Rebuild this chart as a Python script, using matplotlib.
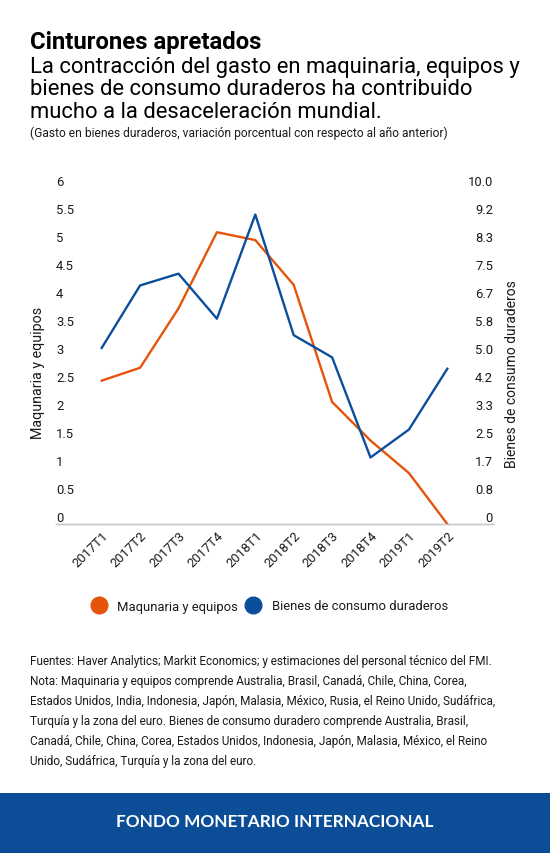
import matplotlib
matplotlib.use('Agg')
from matplotlib import pyplot as plt
from matplotlib.lines import Line2D
from matplotlib.patches import Rectangle

quarters = ['2017T1', '2017T2', '2017T3', '2017T4', '2018T1',
            '2018T2', '2018T3', '2018T4', '2019T1', '2019T2']
maquinaria = [2.56, 2.79, 3.85, 5.21, 5.07, 4.27, 2.18, 1.49, 0.91, 0.0]
bienes = [5.24, 7.10, 7.45, 6.11, 9.21, 5.62, 4.96, 1.98, 2.81, 4.62]
left_ticks = [0, 0.5, 1, 1.5, 2, 2.5, 3, 3.5, 4, 4.5, 5, 5.5, 6]
left_labels = ['0', '0.5', '1', '1.5', '2', '2.5', '3', '3.5', '4', '4.5', '5', '5.5', '6']
right_labels = ['0', '0.8', '1.7', '2.5', '3.3', '4.2', '5.0', '5.8', '6.7',
                '7.5', '8.3', '9.2', '10.0']

ORANGE = '#e5540a'
BLUE = '#0b4f9c'
BANNER = '#0b4d96'
TXT = '#1a1a1a'

plt.rcParams['font.family'] = ['Roboto', 'DejaVu Sans']

W, H = 550, 854
fig = plt.figure(figsize=(W / 100, H / 100), dpi=100)


def fx(px):
    return px / W


def fy(py):
    return 1 - py / H


# titles
fig.text(fx(30), fy(43), 'Cinturones apretados', fontsize=17.2, fontweight='bold',
         color='black', va='center', ha='left')
subtitle = ['La contracción del gasto en maquinaria, equipos y',
            'bienes de consumo duraderos ha contribuido',
            'mucho a la desaceleración mundial.']
for i, line in enumerate(subtitle):
    fig.text(fx(30), fy(67 + i * 22.5), line, fontsize=15.8, color='black',
             va='center', ha='left')
fig.text(fx(30), fy(133), '(Gasto en bienes duraderos, variación porcentual con respecto al año anterior)',
         fontsize=8.65, color=TXT, va='center', ha='left')

# chart
ax = fig.add_axes([fx(56), fy(525), fx(493) - fx(56), (525 - 189) / H])
ax2 = ax.twinx()
x = list(range(len(quarters)))
ax.plot(x, maquinaria, color=ORANGE, lw=1.7, zorder=3)
ax2.plot(x, bienes, color=BLUE, lw=1.7, zorder=3)
ax.set_xlim(-1.19, len(quarters) - 1 + 1.19)
ax.set_ylim(0, 6)
ax2.set_ylim(0, 10)
ax.set_yticks(left_ticks)
ax.set_yticklabels(left_labels)
ax2.set_yticks([v * 10 / 12 for v in range(13)])
ax2.set_yticklabels(right_labels)
ax.tick_params(axis='y', length=0, pad=0, labelsize=9.4, labelcolor=TXT)
ax2.tick_params(axis='y', length=0, pad=0, labelsize=9.4, labelcolor=TXT)
for lab in ax.get_yticklabels():
    lab.set_ha('left')
    lab.set_va('bottom')
for lab in ax2.get_yticklabels():
    lab.set_ha('right')
    lab.set_va('bottom')
ax.set_xticks(x)
ax.set_xticklabels(quarters, rotation=45, ha='right', va='top', rotation_mode='anchor',
                   fontsize=9.4, color=TXT)
ax.tick_params(axis='x', length=0, pad=3)
for a in (ax, ax2):
    for s in ('top', 'left', 'right'):
        a.spines[s].set_visible(False)
    a.spines['bottom'].set_color('#c8c8c8')
    a.spines['bottom'].set_linewidth(1)
    a.patch.set_visible(False)

fig.text(fx(38), fy(373), 'Maqunaria y equipos', rotation=90, fontsize=10.3,
         color=TXT, ha='center', va='center')
fig.text(fx(512), fy(374), 'Bienes de consumo duraderos', rotation=90, fontsize=10,
         color=TXT, ha='center', va='center')

# legend
handles = [Line2D([], [], ls='none', marker='o', ms=12, color=ORANGE),
           Line2D([], [], ls='none', marker='o', ms=12, color=BLUE)]
fig.legend(handles, ['Maqunaria y equipos', 'Bienes de consumo duraderos'],
           loc='center', bbox_to_anchor=(fx(270), fy(607)), ncol=2, frameon=False,
           fontsize=9.4, handlelength=1.0, handletextpad=0.9, columnspacing=0.7,
           labelcolor=TXT)

# notes
notes = ['Fuentes: Haver Analytics; Markit Economics; y estimaciones del personal técnico del FMI.',
         'Nota: Maquinaria y equipos comprende Australia, Brasil, Canadá, Chile, China, Corea,',
         'Estados Unidos, India, Indonesia, Japón, Malasia, México, Rusia, el Reino Unido, Sudáfrica,',
         'Turquía y la zona del euro. Bienes de consumo duradero comprende Australia, Brasil,',
         'Canadá, Chile, China, Corea, Estados Unidos, Indonesia, Japón, Malasia, México, el Reino',
         'Unido, Sudáfrica, Turquía y la zona del euro.']
for i, line in enumerate(notes):
    fig.text(fx(30), fy(662 + i * 20), line, fontsize=8.5, color=TXT,
             va='center', ha='left')

# banner
fig.add_artist(Rectangle((0, 0), 1, fy(794), transform=fig.transFigure,
                         facecolor=BANNER, edgecolor='none'))
fig.text(0.5, fy(822), 'FONDO MONETARIO INTERNACIONAL', fontsize=12.4,
         fontweight='bold', color='white', ha='center', va='center',
         family=['Lato', 'DejaVu Sans'])

fig.savefig('out.png', dpi=100)
